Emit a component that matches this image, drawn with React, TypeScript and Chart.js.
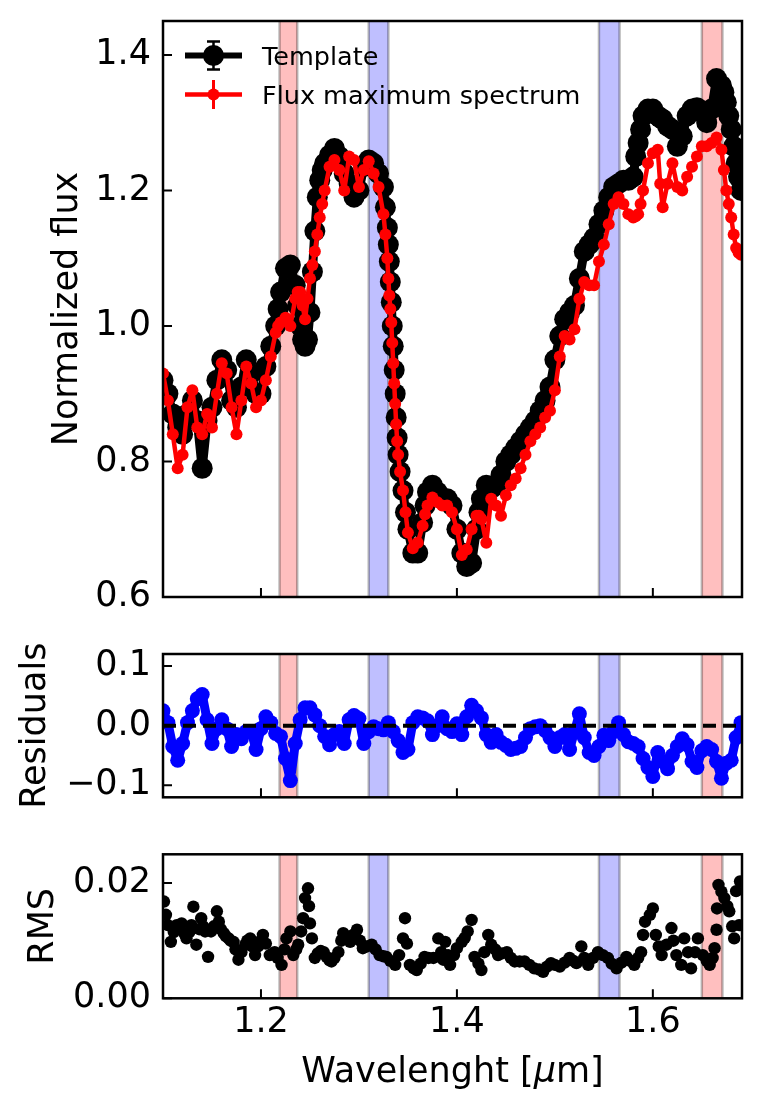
import React, { useEffect, useRef } from "react";
import { Chart, registerables } from "chart.js";

Chart.register(...registerables);

const FONT = "'DejaVu Sans', 'Liberation Sans', sans-serif";

// ---------- data ----------
const wavelength = [
  1.100, 1.105, 1.110, 1.115, 1.120, 1.125, 1.130, 1.135, 1.140, 1.145,
  1.150, 1.155, 1.160, 1.165, 1.170, 1.175, 1.180, 1.185, 1.190, 1.195,
  1.200, 1.205, 1.210, 1.215, 1.2175, 1.220, 1.225, 1.230, 1.235, 1.2375,
  1.240, 1.2425, 1.245, 1.2475, 1.250, 1.2525, 1.255, 1.2575, 1.260, 1.2625,
  1.265, 1.270, 1.275, 1.280, 1.285, 1.290, 1.295, 1.300, 1.305, 1.310,
  1.315, 1.320, 1.325, 1.327, 1.329, 1.330, 1.331, 1.332, 1.333, 1.334,
  1.335, 1.336, 1.337, 1.338, 1.339, 1.340, 1.342, 1.345, 1.3475, 1.350,
  1.355, 1.360, 1.365, 1.3675, 1.370, 1.375, 1.380, 1.385, 1.390, 1.395,
  1.400, 1.405, 1.410, 1.415, 1.420, 1.4225, 1.425, 1.430, 1.435, 1.440,
  1.445, 1.450, 1.455, 1.460, 1.465, 1.470, 1.475, 1.480, 1.485, 1.490,
  1.495, 1.500, 1.505, 1.510, 1.515, 1.520, 1.525, 1.530, 1.535, 1.540,
  1.545, 1.550, 1.555, 1.560, 1.565, 1.570, 1.575, 1.580, 1.5825, 1.585,
  1.5875, 1.590, 1.595, 1.600, 1.605, 1.6075, 1.610, 1.615, 1.620, 1.625,
  1.630, 1.635, 1.640, 1.645, 1.650, 1.655, 1.660, 1.665, 1.670, 1.6725,
  1.675, 1.6775, 1.680, 1.6825, 1.685, 1.6875, 1.690,
];

const templateFlux = [
  0.92, 0.90, 0.87, 0.85, 0.84, 0.87, 0.89, 0.86, 0.79, 0.86,
  0.88, 0.92, 0.95, 0.935, 0.89, 0.88, 0.91, 0.95, 0.93, 0.90,
  0.90, 0.94, 0.97, 1.00, 1.025, 1.05, 1.085, 1.09, 1.06, 1.03,
  1.00, 0.98, 0.97, 0.98, 1.02, 1.08, 1.14, 1.19, 1.215, 1.23,
  1.24, 1.252, 1.262, 1.25, 1.225, 1.21, 1.19, 1.20, 1.235, 1.245,
  1.24, 1.225, 1.205, 1.175, 1.145, 1.12, 1.095, 1.065, 1.035, 1.00,
  0.97, 0.935, 0.90, 0.865, 0.835, 0.81, 0.785, 0.757, 0.725, 0.70,
  0.665, 0.665, 0.71, 0.735, 0.755, 0.765, 0.755, 0.745, 0.745, 0.735,
  0.70, 0.665, 0.645, 0.65, 0.70, 0.725, 0.745, 0.765, 0.76, 0.765,
  0.78, 0.80, 0.81, 0.82, 0.83, 0.84, 0.85, 0.86, 0.875, 0.89,
  0.91, 0.95, 0.985, 1.01, 1.02, 1.03, 1.07, 1.11, 1.12, 1.13,
  1.15, 1.17, 1.19, 1.205, 1.21, 1.215, 1.215, 1.22, 1.25, 1.27,
  1.29, 1.31, 1.32, 1.32, 1.31, 1.307, 1.305, 1.295, 1.29, 1.265,
  1.28, 1.31, 1.32, 1.322, 1.315, 1.30, 1.32, 1.365, 1.355, 1.345,
  1.33, 1.31, 1.29, 1.265, 1.24, 1.22, 1.20,
];

const maxSpectrumFlux = [
  0.93, 0.89, 0.84, 0.79, 0.81, 0.88, 0.905, 0.85, 0.84, 0.87,
  0.85, 0.90, 0.945, 0.93, 0.88, 0.84, 0.89, 0.94, 0.915, 0.88,
  0.89, 0.92, 0.955, 0.99, 1.00, 1.005, 1.012, 1.00, 1.04, 1.05,
  1.05, 1.03, 1.01, 1.04, 1.07, 1.09, 1.11, 1.135, 1.16, 1.18,
  1.20, 1.235, 1.245, 1.23, 1.20, 1.25, 1.245, 1.205, 1.23, 1.243,
  1.225, 1.205, 1.165, 1.135, 1.10, 1.07, 1.045, 1.025, 1.005, 0.975,
  0.945, 0.915, 0.885, 0.855, 0.83, 0.81, 0.785, 0.757, 0.725, 0.695,
  0.672, 0.68, 0.705, 0.722, 0.735, 0.747, 0.74, 0.735, 0.735, 0.725,
  0.70, 0.662, 0.67, 0.70, 0.72, 0.72, 0.715, 0.68, 0.745, 0.735,
  0.72, 0.75, 0.765, 0.775, 0.79, 0.81, 0.83, 0.84, 0.85, 0.865,
  0.875, 0.905, 0.955, 0.985, 0.98, 0.995, 1.04, 1.065, 1.06, 1.06,
  1.095, 1.12, 1.15, 1.18, 1.19, 1.18, 1.165, 1.16, 1.162, 1.165,
  1.18, 1.20, 1.24, 1.255, 1.26, 1.21, 1.175, 1.21, 1.24, 1.205,
  1.20, 1.22, 1.235, 1.25, 1.265, 1.265, 1.27, 1.278, 1.26, 1.23,
  1.20, 1.18, 1.16, 1.135, 1.115, 1.108, 1.105,
];

const residualWavelength = [
  1.100, 1.105, 1.110, 1.115, 1.120, 1.125, 1.130, 1.135, 1.140, 1.145,
  1.150, 1.155, 1.160, 1.165, 1.170, 1.175, 1.180, 1.185, 1.190, 1.195,
  1.200, 1.205, 1.210, 1.215, 1.220, 1.225, 1.230, 1.235, 1.240, 1.245,
  1.250, 1.255, 1.260, 1.265, 1.270, 1.275, 1.280, 1.285, 1.290, 1.295,
  1.300, 1.305, 1.310, 1.315, 1.320, 1.325, 1.330, 1.335, 1.340, 1.345,
  1.350, 1.355, 1.360, 1.365, 1.370, 1.375, 1.380, 1.385, 1.390, 1.395,
  1.400, 1.405, 1.410, 1.415, 1.420, 1.425, 1.430, 1.435, 1.440, 1.445,
  1.450, 1.455, 1.460, 1.465, 1.470, 1.475, 1.480, 1.485, 1.490, 1.495,
  1.500, 1.505, 1.510, 1.515, 1.520, 1.525, 1.530, 1.535, 1.540, 1.545,
  1.550, 1.555, 1.560, 1.565, 1.570, 1.575, 1.580, 1.585, 1.590, 1.595,
  1.600, 1.605, 1.610, 1.615, 1.620, 1.625, 1.630, 1.635, 1.640, 1.645,
  1.650, 1.655, 1.660, 1.665, 1.670, 1.675, 1.680, 1.685, 1.690,
];

const residuals = [
  0.025, 0.005, -0.035, -0.058, -0.03, 0.005, 0.025, 0.045, 0.052, 0.01,
  -0.03, -0.005, 0.01, -0.005, -0.035, -0.015, -0.022, -0.01, -0.01, -0.04,
  -0.005, 0.015, 0.005, -0.013, -0.018, -0.055, -0.092, -0.03, 0.01, 0.03,
  0.03, 0.018, 0.0, -0.018, -0.032, -0.015, -0.01, -0.03, 0.01, 0.017,
  0.012, -0.03, -0.01, -0.002, -0.005, -0.007, 0.005, -0.01, -0.025, -0.045,
  -0.04, 0.005, 0.015, 0.013, 0.008, -0.015, 0.0, 0.015, -0.005, -0.01,
  0.003, -0.015, 0.015, 0.034, 0.025, 0.013, -0.015, -0.028, -0.015, -0.028,
  -0.033, -0.04, -0.038, -0.035, -0.02, -0.005, -0.002, 0.0, -0.008, -0.02,
  -0.035, -0.02, -0.015, -0.04, -0.01, 0.02, -0.02, -0.045, -0.05, -0.035,
  -0.016, -0.025, -0.01, 0.005, -0.015, -0.027, -0.03, -0.035, -0.055, -0.07,
  -0.085, -0.045, -0.06, -0.072, -0.05, -0.035, -0.022, -0.032, -0.06, -0.07,
  -0.042, -0.035, -0.04, -0.06, -0.088, -0.063, -0.058, -0.02, 0.005,
];

const rmsWavelength = [
  1.101, 1.103, 1.105, 1.108, 1.111, 1.114, 1.117, 1.119, 1.122, 1.124,
  1.127, 1.129, 1.131, 1.134, 1.137, 1.139, 1.141, 1.143, 1.146, 1.149,
  1.152, 1.155, 1.157, 1.159, 1.162, 1.164, 1.167, 1.169, 1.172, 1.174,
  1.177, 1.180, 1.184, 1.186, 1.189, 1.191, 1.194, 1.197, 1.200, 1.202,
  1.205, 1.209, 1.212, 1.214, 1.217, 1.221, 1.224, 1.226, 1.230, 1.233,
  1.236, 1.238, 1.241, 1.243, 1.245, 1.248, 1.249, 1.250, 1.252, 1.255,
  1.258, 1.261, 1.264, 1.267, 1.270, 1.272, 1.275, 1.279, 1.282, 1.284,
  1.287, 1.291, 1.294, 1.298, 1.301, 1.304, 1.308, 1.313, 1.317, 1.321,
  1.325, 1.328, 1.332, 1.337, 1.341, 1.345, 1.347, 1.349, 1.352, 1.356,
  1.359, 1.363, 1.367, 1.371, 1.376, 1.381, 1.384, 1.386, 1.388, 1.391,
  1.393, 1.397, 1.400, 1.405, 1.408, 1.411, 1.415, 1.418, 1.422, 1.425,
  1.428, 1.432, 1.435, 1.439, 1.442, 1.446, 1.451, 1.455, 1.459, 1.464,
  1.469, 1.474, 1.479, 1.484, 1.488, 1.492, 1.496, 1.500, 1.505, 1.510,
  1.515, 1.519, 1.522, 1.527, 1.530, 1.534, 1.539, 1.544, 1.549, 1.554,
  1.558, 1.563, 1.568, 1.573, 1.577, 1.581, 1.585, 1.588, 1.590, 1.592,
  1.597, 1.600, 1.603, 1.606, 1.609, 1.614, 1.619, 1.621, 1.624, 1.629,
  1.632, 1.636, 1.639, 1.643, 1.646, 1.651, 1.655, 1.658, 1.661, 1.663,
  1.665, 1.6655, 1.667, 1.670, 1.673, 1.676, 1.678, 1.681, 1.683, 1.685,
  1.688, 1.689,
];

const rmsValues = [
  0.0168, 0.0145, 0.0127, 0.0098, 0.0115, 0.0127, 0.0120, 0.0130, 0.0112, 0.0104,
  0.0115, 0.0127, 0.0159, 0.0093, 0.0120, 0.0139, 0.0125, 0.0116, 0.0072, 0.0116,
  0.0125, 0.0151, 0.0133, 0.0120, 0.0113, 0.0108, 0.0104, 0.0100, 0.0098, 0.0085,
  0.0067, 0.0080, 0.0093, 0.0100, 0.0104, 0.0090, 0.0075, 0.0090, 0.0100, 0.0110,
  0.0095, 0.0075, 0.0078, 0.0080, 0.0070, 0.0058, 0.0085, 0.0104, 0.0116, 0.0075,
  0.0085, 0.0093, 0.0116, 0.0139, 0.0174, 0.0191, 0.0160, 0.0130, 0.0104, 0.0070,
  0.0078, 0.0082, 0.0080, 0.0072, 0.0066, 0.0064, 0.0070, 0.0080, 0.0100, 0.0113,
  0.0105, 0.0098, 0.0110, 0.0119, 0.0100, 0.0087, 0.0090, 0.0093, 0.0085, 0.0075,
  0.0073, 0.0072, 0.0065, 0.0058, 0.0075, 0.0104, 0.0139, 0.0095, 0.0058, 0.0052,
  0.0049, 0.0060, 0.0072, 0.0070, 0.0070, 0.0104, 0.0080, 0.0067, 0.0098, 0.0075,
  0.0058, 0.0075, 0.0087, 0.0098, 0.0105, 0.0116, 0.0136, 0.0072, 0.0060, 0.0049,
  0.0080, 0.0110, 0.0093, 0.0085, 0.0075, 0.0078, 0.0080, 0.0070, 0.0064, 0.0064,
  0.0064, 0.0058, 0.0052, 0.0050, 0.0046, 0.0055, 0.0061, 0.0058, 0.0055, 0.0062,
  0.0070, 0.0065, 0.0061, 0.0090, 0.0070, 0.0058, 0.0070, 0.0080, 0.0075, 0.0070,
  0.0060, 0.0052, 0.0062, 0.0072, 0.0065, 0.0058, 0.0070, 0.0080, 0.0110, 0.0133,
  0.0145, 0.0156, 0.0110, 0.0090, 0.0075, 0.0093, 0.0122, 0.0100, 0.0075, 0.0058,
  0.0104, 0.0080, 0.0052, 0.0080, 0.0104, 0.0075, 0.0065, 0.0058, 0.0070, 0.0087,
  0.0119, 0.0156, 0.0197, 0.0185, 0.0174, 0.0160, 0.0151, 0.0125, 0.0104, 0.0186,
  0.0127, 0.0203,
];

const redBands = [
  [1.219, 1.237],
  [1.650, 1.671],
];
const blueBands = [
  [1.310, 1.330],
  [1.545, 1.566],
];

const xMin = 1.1;
const xMax = 1.691;
const xTicks = [1.2, 1.4, 1.6];
const fluxTicks = [0.6, 0.8, 1.0, 1.2, 1.4];
const residualTicks = [-0.1, 0.0, 0.1];
const rmsTicks = [0.0, 0.02];
const zeroLevel = 0;

const legendLabels = ["Template", "Flux maximum spectrum"];

// ---------- plugins ----------
const bandsPlugin = {
  id: "bands",
  beforeDatasetsDraw(chart: any) {
    const { ctx, chartArea: a, scales } = chart;
    const x = scales.x;
    ctx.save();
    ctx.beginPath();
    ctx.rect(a.left, a.top, a.right - a.left, a.bottom - a.top);
    ctx.clip();
    const draw = (bands: number[][], fill: string) => {
      bands.forEach(([lo, hi]) => {
        const x0 = x.getPixelForValue(lo);
        const x1 = x.getPixelForValue(hi);
        ctx.fillStyle = fill;
        ctx.fillRect(x0, a.top, x1 - x0, a.bottom - a.top);
        ctx.strokeStyle = "rgba(0,0,0,0.28)";
        ctx.lineWidth = 2.5;
        ctx.beginPath();
        ctx.moveTo(x0, a.top);
        ctx.lineTo(x0, a.bottom);
        ctx.moveTo(x1, a.top);
        ctx.lineTo(x1, a.bottom);
        ctx.stroke();
      });
    };
    draw(redBands, "rgba(255,0,0,0.25)");
    draw(blueBands, "rgba(0,0,255,0.25)");
    ctx.restore();
  },
};

const makeFramePlugin = (yTicks: number[]) => ({
  id: "frame",
  afterDraw(chart: any) {
    const { ctx, chartArea: a, scales } = chart;
    const { x, y } = scales;
    ctx.save();
    ctx.strokeStyle = "#000";
    ctx.lineWidth = 2;
    ctx.beginPath();
    yTicks.forEach((v) => {
      const py = y.getPixelForValue(v);
      ctx.moveTo(a.left, py);
      ctx.lineTo(a.left + 9, py);
    });
    xTicks.forEach((v) => {
      const px = x.getPixelForValue(v);
      ctx.moveTo(px, a.bottom);
      ctx.lineTo(px, a.bottom - 9);
    });
    ctx.stroke();
    ctx.lineWidth = 2.5;
    ctx.strokeRect(a.left, a.top, a.right - a.left, a.bottom - a.top);
    ctx.restore();
  },
});

const legendPlugin = {
  id: "customLegend",
  afterDraw(chart: any) {
    const { ctx } = chart;
    ctx.save();
    const cx = 213.5;
    let cy = 55.5;
    ctx.strokeStyle = "#000";
    ctx.lineWidth = 6;
    ctx.beginPath();
    ctx.moveTo(185, cy);
    ctx.lineTo(242, cy);
    ctx.stroke();
    ctx.lineWidth = 2.5;
    ctx.beginPath();
    ctx.moveTo(cx, cy - 14);
    ctx.lineTo(cx, cy + 14);
    ctx.moveTo(cx - 6.5, cy - 14);
    ctx.lineTo(cx + 6.5, cy - 14);
    ctx.moveTo(cx - 6.5, cy + 14);
    ctx.lineTo(cx + 6.5, cy + 14);
    ctx.stroke();
    ctx.fillStyle = "#000";
    ctx.beginPath();
    ctx.arc(cx, cy, 10.5, 0, Math.PI * 2);
    ctx.fill();
    cy = 94.5;
    ctx.strokeStyle = "#ff0000";
    ctx.lineWidth = 4.5;
    ctx.beginPath();
    ctx.moveTo(185, cy);
    ctx.lineTo(242, cy);
    ctx.stroke();
    ctx.lineWidth = 3;
    ctx.beginPath();
    ctx.moveTo(cx, cy - 14.5);
    ctx.lineTo(cx, cy + 14.5);
    ctx.stroke();
    ctx.fillStyle = "#ff0000";
    ctx.beginPath();
    ctx.arc(cx, cy, 6, 0, Math.PI * 2);
    ctx.fill();
    ctx.fillStyle = "#000";
    ctx.font = `25.5px ${FONT}`;
    ctx.textBaseline = "alphabetic";
    ctx.textAlign = "left";
    ctx.fillText(legendLabels[0], 262, 65);
    ctx.fillText(legendLabels[1], 262, 103.5);
    ctx.restore();
  },
};

const xTitlePlugin = {
  id: "xTitle",
  afterDraw(chart: any) {
    const { ctx, chartArea: a } = chart;
    ctx.save();
    const regular = `35px ${FONT}`;
    const italic = `italic 35px ${FONT}`;
    const parts: [string, string][] = [
      ["Wavelenght [", regular],
      ["\u03bc", italic],
      ["m]", regular],
    ];
    let total = 0;
    const widths = parts.map(([t, f]) => {
      ctx.font = f;
      const w = ctx.measureText(t).width;
      total += w;
      return w;
    });
    let x = (a.left + a.right) / 2 - total / 2;
    const baseline = 262;
    ctx.fillStyle = "#000";
    ctx.textBaseline = "alphabetic";
    ctx.textAlign = "left";
    parts.forEach(([t, f], i) => {
      ctx.font = f;
      ctx.fillText(t, x, baseline);
      x += widths[i];
    });
    ctx.restore();
  },
};

type PanelSpec = {
  height: number;
  top: number;
  bottom: number;
  yMin: number;
  yMax: number;
  yTicks: number[];
  yFormat: (v: number) => string;
  yTitle: string;
  yTitlePad: number;
  datasets: any[];
  xLabels: boolean;
  extraPlugins: any[];
};

function panelConfig(p: PanelSpec): any {
  const font = { family: FONT, size: 35 };
  return {
    type: "line",
    data: { datasets: p.datasets },
    options: {
      responsive: false,
      maintainAspectRatio: false,
      animation: false,
      events: [],
      layout: { padding: { left: 0, right: 21, top: p.top, bottom: 0 }, autoPadding: false },
      plugins: { legend: { display: false }, tooltip: { enabled: false }, title: { display: false } },
      scales: {
        x: {
          type: "linear",
          min: xMin,
          max: xMax,
          afterBuildTicks: (s: any) => {
            s.ticks = xTicks.map((v) => ({ value: v }));
          },
          afterFit: (s: any) => {
            s.height = p.height - p.bottom;
            s.paddingLeft = 0;
            s.paddingRight = 0;
            s.paddingTop = 0;
            s.paddingBottom = 0;
          },
          grid: { display: false, drawTicks: false },
          border: { display: false },
          ticks: {
            display: p.xLabels,
            padding: 4,
            color: "#000",
            font,
            maxRotation: 0,
            autoSkip: false,
            callback: (v: any) => Number(v).toFixed(1),
          },
        },
        y: {
          type: "linear",
          min: p.yMin,
          max: p.yMax,
          afterBuildTicks: (s: any) => {
            s.ticks = p.yTicks.map((v) => ({ value: v }));
          },
          afterFit: (s: any) => {
            s.width = 163;
            s.paddingLeft = 0;
            s.paddingRight = 0;
            s.paddingTop = 0;
            s.paddingBottom = 0;
          },
          grid: { display: false, drawTicks: false },
          border: { display: false },
          ticks: {
            padding: 12,
            color: "#000",
            font,
            autoSkip: false,
            callback: (v: any) => p.yFormat(Number(v)),
          },
          title: {
            display: true,
            text: p.yTitle,
            color: "#000",
            font,
            padding: { top: p.yTitlePad, bottom: 0 },
          },
        },
      },
    },
    plugins: [bandsPlugin, makeFramePlugin(p.yTicks), ...p.extraPlugins],
  };
}

const fmtSigned = (v: number, d: number) => {
  const s = Math.abs(v).toFixed(d);
  return v < -1e-9 ? "\u2212" + s : s;
};

export default function App() {
  const c1 = useRef<HTMLCanvasElement>(null);
  const c2 = useRef<HTMLCanvasElement>(null);
  const c3 = useRef<HTMLCanvasElement>(null);

  useEffect(() => {
    document.body.style.margin = "0";
    const charts: Chart[] = [];

    const templatePts = wavelength.map((w, i) => ({ x: w, y: templateFlux[i] }));
    const maxPts = wavelength.map((w, i) => ({ x: w, y: maxSpectrumFlux[i] }));
    const resPts = residualWavelength.map((w, i) => ({ x: w, y: residuals[i] }));
    const rmsPts = rmsWavelength.map((w, i) => ({ x: w, y: rmsValues[i] }));

    const lineStyle = { borderJoinStyle: "round", borderCapStyle: "round", tension: 0, pointBorderWidth: 0, clip: 0 };

    charts.push(
      new Chart(
        c1.current!,
        panelConfig({
          height: 620,
          top: 21,
          bottom: 597,
          yMin: 0.6,
          yMax: 1.45,
          yTicks: fluxTicks,
          yFormat: (v) => v.toFixed(1),
          yTitle: "Normalized flux",
          yTitlePad: 47,
          xLabels: false,
          extraPlugins: [legendPlugin],
          datasets: [
            {
              ...lineStyle,
              label: legendLabels[1],
              data: maxPts,
              borderColor: "#ff0000",
              backgroundColor: "#ff0000",
              pointBackgroundColor: "#ff0000",
              borderWidth: 4.5,
              pointRadius: 6,
              order: 0,
            },
            {
              ...lineStyle,
              label: legendLabels[0],
              data: templatePts,
              borderColor: "#000000",
              backgroundColor: "#000000",
              pointBackgroundColor: "#000000",
              borderWidth: 9,
              pointRadius: 10.5,
              order: 1,
            },
          ],
        })
      )
    );

    charts.push(
      new Chart(
        c2.current!,
        panelConfig({
          height: 200,
          top: 34,
          bottom: 177.3,
          yMin: -0.12,
          yMax: 0.12,
          yTicks: residualTicks,
          yFormat: (v) => fmtSigned(v, 1),
          yTitle: "Residuals",
          yTitlePad: 15,
          xLabels: false,
          extraPlugins: [],
          datasets: [
            {
              label: "zero",
              data: [
                { x: xMin, y: zeroLevel },
                { x: xMax, y: zeroLevel },
              ],
              borderColor: "#000000",
              borderWidth: 4,
              borderDash: [13, 7],
              pointRadius: 0,
              order: 0,
              clip: 0,
            },
            {
              ...lineStyle,
              label: "Residuals",
              data: resPts,
              borderColor: "#0000ff",
              backgroundColor: "#0000ff",
              pointBackgroundColor: "#0000ff",
              borderWidth: 9,
              pointRadius: 7.5,
              order: 1,
            },
          ],
        })
      )
    );

    charts.push(
      new Chart(
        c3.current!,
        panelConfig({
          height: 294,
          top: 34.3,
          bottom: 178.3,
          yMin: 0,
          yMax: 0.025,
          yTicks: rmsTicks,
          yFormat: (v) => v.toFixed(2),
          yTitle: "RMS",
          yTitlePad: 23,
          xLabels: true,
          extraPlugins: [xTitlePlugin],
          datasets: [
            {
              label: "RMS",
              data: rmsPts,
              showLine: false,
              borderColor: "#000000",
              backgroundColor: "#000000",
              pointBackgroundColor: "#000000",
              pointRadius: 6.2,
              pointBorderWidth: 0,
              order: 0,
              clip: 0,
            },
          ],
        })
      )
    );

    return () => charts.forEach((c) => c.destroy());
  }, []);

  const canvasStyle = (top: number, h: number): React.CSSProperties => ({
    position: "absolute",
    left: 0,
    top,
    width: 763,
    height: h,
  });

  return (
    <div style={{ position: "relative", width: 763, height: 1114, background: "#ffffff", overflow: "hidden" }}>
      <canvas ref={c1} width={763} height={620} style={canvasStyle(0, 620)} />
      <canvas ref={c2} width={763} height={200} style={canvasStyle(620, 200)} />
      <canvas ref={c3} width={763} height={294} style={canvasStyle(820, 294)} />
    </div>
  );
}
